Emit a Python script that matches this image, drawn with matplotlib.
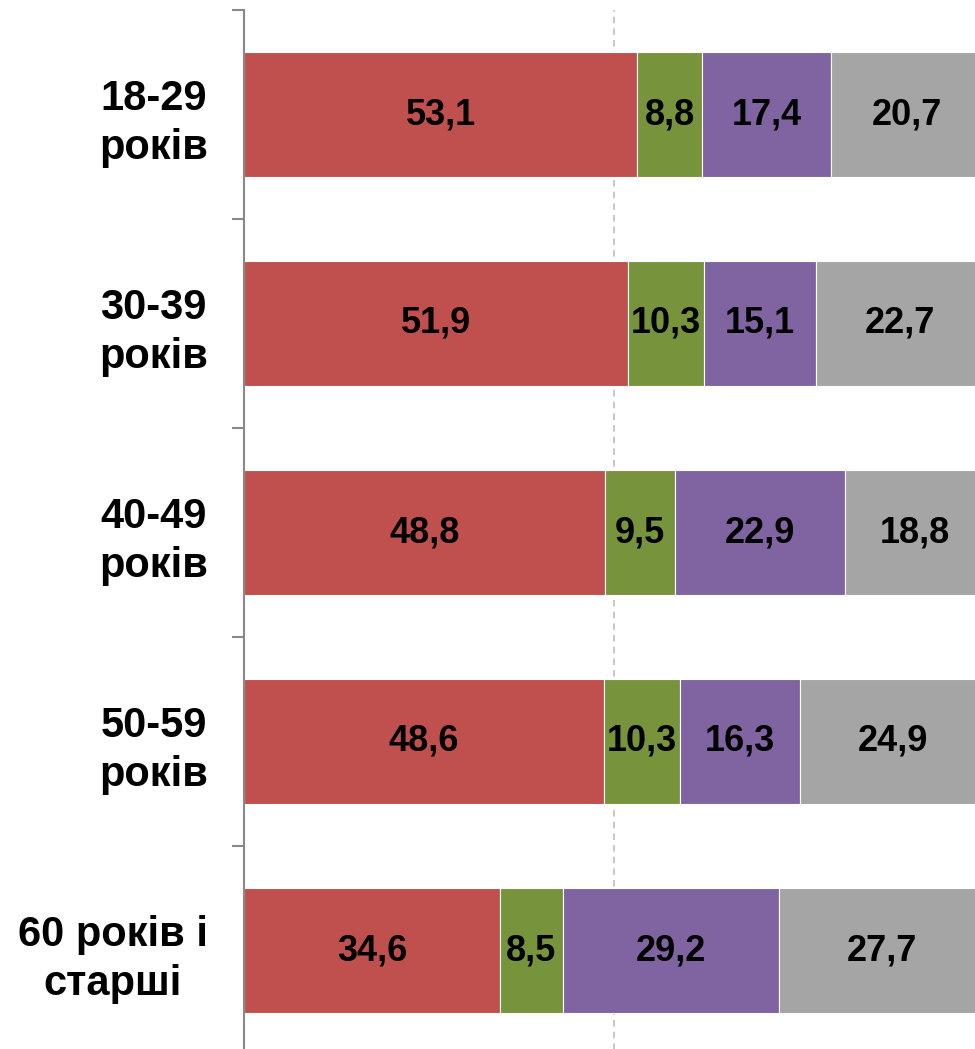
import matplotlib
matplotlib.use("Agg")
import matplotlib.pyplot as plt
import numpy as np

categories = ["18-29\nроків", "30-39\nроків", "40-49\nроків", "50-59\nроків", "60 років і\nстарші"]
s1 = [53.1, 51.9, 48.8, 48.6, 34.6]
s2 = [8.8, 10.3, 9.5, 10.3, 8.5]
s3 = [17.4, 15.1, 22.9, 16.3, 29.2]
s4 = [20.7, 22.7, 18.8, 24.9, 27.7]
series = [s1, s2, s3, s4]
colors = ["#C0504D", "#77933C", "#8064A2", "#A5A5A5"]

plt.rcParams['font.family'] = ['Liberation Sans', 'DejaVu Sans']

W, H = 975, 1049
fig = plt.figure(figsize=(W/100, H/100), dpi=100)
left = 244 / W
right = 984 / W
top = 1 - 10 / H
bottom = 1 - 1055 / H
ax = fig.add_axes([left, bottom, right - left, top - bottom])

y = np.arange(len(categories))
lefts = np.zeros(len(categories))
for vals, c in zip(series, colors):
    vals = np.array(vals)
    bars = ax.barh(y, vals, left=lefts, height=0.6, color=c, edgecolor='white', linewidth=0.8, zorder=3)
    for b, v, l in zip(bars, vals, lefts):
        ax.text(l + v / 2, b.get_y() + b.get_height() / 2, f"{v:.1f}".replace('.', ','),
                ha='center', va='center', fontsize=26, fontweight='bold', color='black', zorder=4)
    lefts = lefts + vals

ax.set_xlim(0, 100)
ax.set_ylim(len(categories) - 0.5, -0.5)
ax.axvline(50, color='#BFBFBF', linestyle=(0, (4, 3)), linewidth=1.2, zorder=1)

for s in ['top', 'right', 'bottom']:
    ax.spines[s].set_visible(False)
ax.spines['left'].set_color('#898989')
ax.spines['left'].set_linewidth(1.5)
ax.spines['left'].set_zorder(5)

ax.set_xticks([])
ax.set_yticks(y)
ax.set_yticklabels(categories, fontsize=30, fontweight='bold', multialignment='center', linespacing=1.3)
ax.tick_params(axis='y', which='major', length=0, pad=26)
ax.set_yticks(np.arange(-0.5, len(categories), 1), minor=True)
ax.tick_params(axis='y', which='minor', length=9, width=1.5, color='#898989')

fig.savefig("out.png", dpi=100)
